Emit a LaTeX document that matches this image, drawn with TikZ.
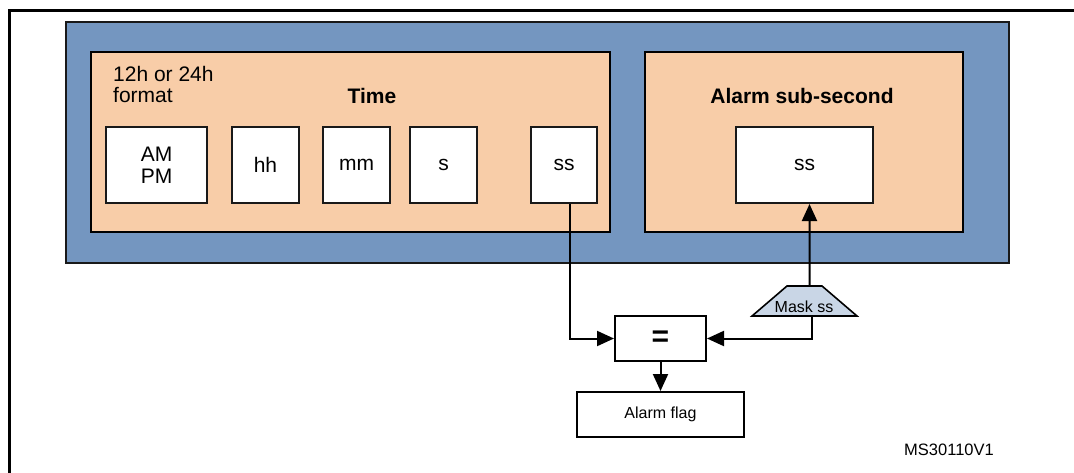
\documentclass[tikz,border=0pt]{standalone}
\usepackage{fontspec}
\setmainfont{Liberation Sans}
\usetikzlibrary{arrows.meta,shapes.geometric}
\definecolor{regblue}{RGB}{116,150,192}
\definecolor{regorange}{RGB}{248,205,168}
\definecolor{maskblue}{RGB}{201,214,230}
\definecolor{edgegray}{RGB}{25,25,25}
\tikzset{
  bluebox/.style={draw=edgegray,line width=2.2pt,fill=regblue,inner sep=0pt},
  orangebox/.style={draw=black,line width=2.2pt,fill=regorange,inner sep=0pt},
  field/.style={draw=edgegray,line width=2pt,fill=white,inner sep=0pt,align=center,font=\fontsize{21}{24}\selectfont},
  plainbox/.style={draw=black,line width=2pt,fill=white,inner sep=0pt},
  title/.style={font=\fontsize{21}{24}\selectfont\bfseries},
  conn/.style={draw=black,line width=2pt},
  arr/.style={conn,-{Triangle[length=17pt,width=15pt]}},
}
\begin{document}
\begin{tikzpicture}[x=1pt,y=-1pt]
\useasboundingbox (0,0) rectangle (1074,472);
% page frame
\draw[line width=3pt] (9,474) -- (9,10) -- (1076,10);
% register block
\node[bluebox,minimum width=943,minimum height=241] (reg) at (537.5,142.5) {};
\node[orangebox,minimum width=519,minimum height=180] (time) at (350.5,142) {};
\node[orangebox,minimum width=318,minimum height=180] (alarm) at (804,142) {};
\node[title] (timet) at (372,96) {Time};
\node[title] (alarmt) at (802,96) {Alarm sub-second};
\node[anchor=west,align=left,inner sep=0pt,font=\fontsize{21}{21}\selectfont] (fmt) at (113,84) {12h or 24h\\format};
\node[field,minimum width=101,minimum height=76] (ampm) at (156.5,165) {AM\\[-2pt]PM};
\node[field,minimum width=67,minimum height=76] (hh) at (265.5,165) {hh};
\node[field,minimum width=67,minimum height=76] (mm) at (356.5,165) {mm};
\node[field,minimum width=67,minimum height=76] (s) at (443.5,165) {s};
\node[field,minimum width=66,minimum height=76] (ss1) at (564,165) {ss};
\node[field,minimum width=137,minimum height=76] (ss2) at (804.5,165) {ss};
% comparator
\node[plainbox,minimum width=91,minimum height=45,font=\fontsize{30}{30}\selectfont\bfseries] (eq) at (660.5,338.5) {=};
\node[plainbox,minimum width=167,minimum height=45,font=\fontsize{16}{18}\selectfont] (flag) at (660.5,414.5) {Alarm flag};
\node[trapezium,trapezium angle=45,trapezium stretches=true,draw=black,line width=1.6pt,fill=maskblue,
  minimum width=105,minimum height=30,inner sep=0pt] (mask) at (804.5,301) {\phantom{\rule{2pt}{2pt}}};
\node[font=\fontsize{16}{18}\selectfont,inner sep=0pt] (masktxt) at (804,307) {Mask ss};
\node[font=\fontsize{16.5}{18}\selectfont] (ref) at (949,450) {MS30110V1};
% connectors
\draw[arr] ([xshift=6pt]ss1.south) |- (eq.west);
\draw[arr] ([xshift=5pt]mask.north) -- ([xshift=5pt]ss2.south);
\draw[arr] ([xshift=7pt]mask.south) |- (eq.east);
\draw[arr] (eq.south) -- (flag.north);
\end{tikzpicture}
\end{document}
